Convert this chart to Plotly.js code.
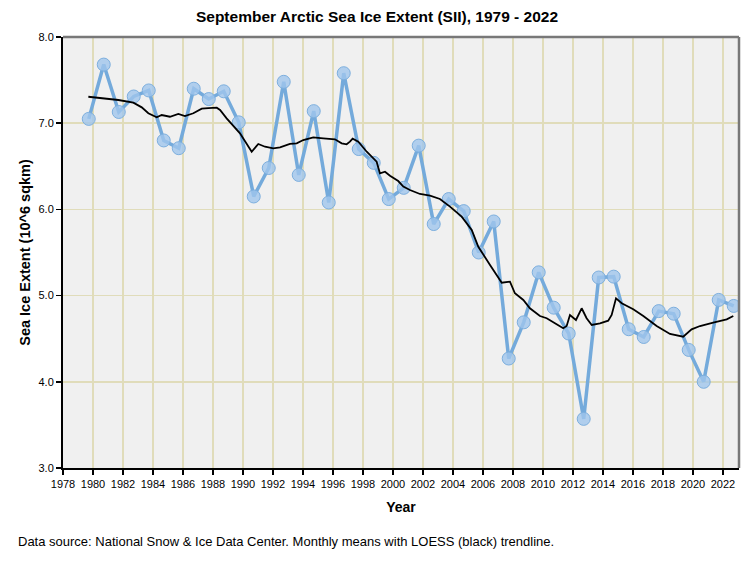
<!DOCTYPE html>
<html>
<head>
<meta charset="utf-8">
<script src="https://cdn.plot.ly/plotly-3.0.1.min.js"></script>
<style>
  html, body { margin: 0; padding: 0; background: #fff; }
  #chart { width: 754px; height: 564px; }
</style>
</head>
<body>
<div id="chart"></div>
<script>
// September years and extents (10^6 sq km)
const years = [1979,1980,1981,1982,1983,1984,1985,1986,1987,1988,1989,1990,1991,1992,1993,1994,1995,1996,1997,1998,1999,2000,2001,2002,2003,2004,2005,2006,2007,2008,2009,2010,2011,2012,2013,2014,2015,2016,2017,2018,2019,2020,2021,2022];
const extent = [7.05,7.68,7.13,7.31,7.38,6.80,6.71,7.40,7.28,7.37,7.01,6.15,6.48,7.48,6.40,7.14,6.08,7.58,6.70,6.54,6.12,6.25,6.74,5.83,6.12,5.98,5.50,5.86,4.27,4.69,5.27,4.86,4.56,3.57,5.21,5.22,4.61,4.52,4.82,4.79,4.37,4.00,4.95,4.88];

// LOESS trend read from monthly series (decimal year, value)
const loessX = [1979.69,1980.69,1981.69,1982.69,1983.25,1983.69,1984.25,1984.58,1985.13,1985.69,1986.13,1986.69,1987.25,1987.69,1988.25,1988.47,1988.91,1989.80,1990.58,1991.02,1991.47,1992.02,1992.47,1993.13,1993.58,1994.02,1994.69,1995.35,1996.13,1996.58,1996.91,1997.13,1997.31,1997.69,1998.25,1998.91,1999.13,1999.47,1999.80,2000.35,2000.69,2001.13,2001.80,2002.47,2003.13,2003.80,2004.58,2005.25,2005.69,2006.47,2007.25,2007.80,2008.13,2008.69,2009.13,2009.80,2010.25,2010.80,2011.35,2011.58,2011.80,2012.20,2012.58,2012.91,2013.25,2013.80,2014.35,2014.58,2014.87,2015.25,2016.02,2016.69,2017.58,2018.47,2019.35,2019.91,2020.47,2021.35,2022.25,2022.69];
const loessY = [7.307,7.292,7.269,7.238,7.184,7.115,7.068,7.095,7.075,7.107,7.083,7.115,7.168,7.176,7.180,7.153,7.056,6.883,6.669,6.759,6.727,6.709,6.720,6.759,6.767,6.805,6.836,6.825,6.813,6.767,6.755,6.786,6.820,6.786,6.669,6.553,6.418,6.437,6.391,6.329,6.264,6.225,6.179,6.159,6.121,6.032,5.916,5.761,5.567,5.355,5.150,5.162,5.027,4.949,4.853,4.763,4.737,4.679,4.621,4.647,4.775,4.717,4.853,4.737,4.659,4.679,4.709,4.775,4.968,4.911,4.842,4.763,4.647,4.555,4.523,4.609,4.647,4.686,4.725,4.763];

const xTickVals = [1978,1980,1982,1984,1986,1988,1990,1992,1994,1996,1998,2000,2002,2004,2006,2008,2010,2012,2014,2016,2018,2020,2022];
const yTickVals = [3,4,5,6,7,8];

// mid-September as decimal year
const septX = years.map(y => y + 8.6/12);

const font = "Liberation Sans, Arial, sans-serif";

const traces = [
  {
    x: septX, y: extent, type: 'scatter', mode: 'lines+markers',
    line: {color: 'rgb(116,170,219)', width: 3.5},
    marker: {size: 13, color: 'rgba(160,198,236,0.8)', line: {color: 'rgb(125,175,222)', width: 1}},
    hoverinfo: 'x+y', showlegend: false
  },
  {
    x: loessX, y: loessY, type: 'scatter', mode: 'lines',
    line: {color: '#000', width: 1.8},
    showlegend: false
  }
];

const layout = {
  width: 754, height: 564,
  margin: {l: 63, r: 15, t: 37, b: 96},
  paper_bgcolor: '#fff',
  plot_bgcolor: '#f0f0f0',
  font: {family: font, size: 11, color: '#000'},
  title: {text: 'September Arctic Sea Ice Extent (SII), 1979 - 2022', x: 0.5, xref: 'container', y: 0.97, yref: 'container', yanchor: 'middle',
          font: {family: font, size: 15.5, color: '#000', weight: 'bold'}},
  xaxis: {
    range: [1978, 2023.07], tickvals: xTickVals, ticktext: xTickVals.map(String),
    showgrid: true, gridcolor: 'rgb(224,220,186)', gridwidth: 1.5,
    zeroline: false, showline: true, linecolor: '#000', linewidth: 2,
    ticks: 'outside', ticklen: 5, tickcolor: '#000', tickwidth: 1.5,
    tickfont: {family: font, size: 11, color: '#000'},
    title: {text: 'Year', font: {family: font, size: 14, color: '#000', weight: 'bold'}, standoff: 13}
  },
  yaxis: {
    range: [3, 8], tickvals: yTickVals, tickformat: '.1f',
    showgrid: true, gridcolor: 'rgb(224,220,186)', gridwidth: 1.5,
    zeroline: false, showline: true, linecolor: '#000', linewidth: 2,
    ticks: 'outside', ticklen: 5, tickcolor: '#000', tickwidth: 1.5,
    tickfont: {family: font, size: 11, color: '#000'},
    title: {text: 'Sea Ice Extent (10^6 sqkm)', font: {family: font, size: 14.5, color: '#000', weight: 'bold'}, standoff: 4}
  },
  shapes: [
    {type: 'line', xref: 'paper', yref: 'paper', x0: 0, x1: 1, y0: 1, y1: 1, line: {color: 'rgb(120,120,120)', width: 2.5}},
    {type: 'line', xref: 'paper', yref: 'paper', x0: 1, x1: 1, y0: 0, y1: 1, line: {color: 'rgb(120,120,120)', width: 2.5}}
  ],
  annotations: [
    {text: 'Data source: National Snow & Ice Data Center. Monthly means with LOESS (black) trendline.',
     xref: 'paper', yref: 'paper', x: -63/676, y: -73/431, xanchor: 'left', yanchor: 'middle', showarrow: false,
     font: {family: font, size: 13, color: '#000'}, xshift: 16}
  ]
};

Plotly.newPlot('chart', traces, layout, {displayModeBar: false, staticPlot: true});
</script>
</body>
</html>
